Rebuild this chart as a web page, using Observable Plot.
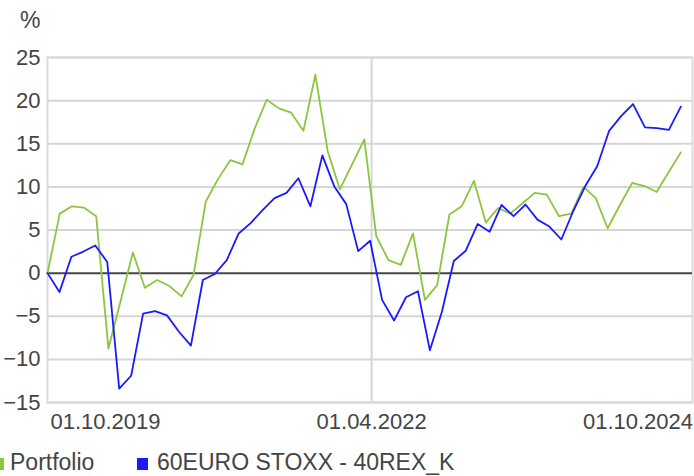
<!DOCTYPE html>
<html>
<head>
<meta charset="utf-8">
<script src="https://cdn.jsdelivr.net/npm/d3@7"></script>
<script src="https://cdn.jsdelivr.net/npm/@observablehq/plot@0.6"></script>
<style>
  html, body { margin: 0; padding: 0; background: #fff; }
  #wrap { position: relative; width: 694px; font-family: "Liberation Sans", Arial, sans-serif; color: #444; overflow: hidden; }
  #unit { position: absolute; left: 20px; top: 6px; font-size: 23px; line-height: 28px; }
  #legend { position: relative; width: 694px; height: 28px; font-size: 23px; line-height: 28px; }
  .sw { position: absolute; top: 10px; width: 11px; height: 12px; }
  .lt { position: absolute; top: 0; white-space: nowrap; }
</style>
</head>
<body>
<div id="wrap">
  <div id="chart"></div>
  <div id="unit">%</div>
  <div id="legend"></div>
</div>
<script>
// Series names and colours
const seriesNames = ["Portfolio", "60EURO STOXX - 40REX_K"];
const seriesColors = ["#8cc63f", "#1a1aff"];

// Portfolio (green) observation dates and values (%)
const portfolioDates = [
  "2019-03-16","2019-04-27","2019-06-08","2019-07-19","2019-08-30","2019-10-11","2019-11-22",
  "2020-01-03","2020-02-13","2020-03-26","2020-05-07","2020-06-18","2020-07-29","2020-09-09",
  "2020-10-21","2020-12-02","2021-01-13","2021-02-23","2021-04-06","2021-05-18","2021-06-29",
  "2021-08-10","2021-09-20","2021-11-01","2021-12-13","2022-01-24","2022-03-07","2022-04-17",
  "2022-05-29","2022-07-10","2022-08-21","2022-10-01","2022-11-12","2022-12-24","2023-02-04",
  "2023-03-18","2023-04-28","2023-06-09","2023-07-21","2023-09-01","2023-10-13","2023-11-23",
  "2024-01-04","2024-02-15","2024-03-28","2024-05-09","2024-06-19","2024-07-31","2024-09-11",
  "2024-10-23","2024-12-04","2025-01-14","2025-02-25"
];
const portfolioValues = [
  0, 6.9, 7.75, 7.6, 6.6, -8.75, -3.2,
  2.4, -1.7, -0.8, -1.5, -2.7, -0.2, 8.3,
  10.9, 13.1, 12.6, 16.7, 20.1, 19.1, 18.6,
  16.5, 23.0, 14.2, 9.7, 12.6, 15.5, 4.3,
  1.5, 0.95, 4.6, -3.1, -1.4, 6.8, 7.75,
  10.7, 5.85, 7.55, 6.9, 8.1, 9.3, 9.1,
  6.6, 6.9, 10.0, 8.7, 5.2, 7.9, 10.45,
  10.1, 9.4, 11.7, 14.0
];

// Benchmark (blue) observation dates and values (%)
const benchmarkDates = [
  "2019-03-16","2019-04-26","2019-06-06","2019-07-17","2019-08-27","2019-10-07","2019-11-17",
  "2019-12-28","2020-02-07","2020-03-19","2020-04-29","2020-06-09","2020-07-20","2020-08-30",
  "2020-10-10","2020-11-20","2020-12-31","2021-02-10","2021-03-23","2021-05-03","2021-06-13",
  "2021-07-24","2021-09-03","2021-10-14","2021-11-24","2022-01-04","2022-02-14","2022-03-27",
  "2022-05-07","2022-06-17","2022-07-28","2022-09-07","2022-10-18","2022-11-28","2023-01-08",
  "2023-02-18","2023-03-31","2023-05-11","2023-06-21","2023-08-01","2023-09-11","2023-10-22",
  "2023-12-02","2024-01-12","2024-02-22","2024-04-03","2024-05-14","2024-06-24","2024-08-04",
  "2024-09-14","2024-10-25","2024-12-05","2025-01-15","2025-02-25"
];
const benchmarkValues = [
  0, -2.2, 1.9, 2.5, 3.2, 1.3, -13.4,
  -11.9, -4.7, -4.4, -4.9, -6.8, -8.4, -0.8,
  -0.1, 1.5, 4.6, 5.8, 7.3, 8.7, 9.3,
  11.0, 7.75, 13.65, 10.05, 8.0, 2.55, 3.75,
  -3.1, -5.5, -2.8, -2.1, -8.95, -4.5, 1.4,
  2.6, 5.7, 4.8, 7.9, 6.6, 7.95, 6.2,
  5.4, 3.9, 7.2, 10.1, 12.4, 16.5, 18.2,
  19.6, 16.9, 16.8, 16.6, 19.3
];

// Axis ticks
const xTickDates = ["2019-10-01", "2022-04-01", "2024-10-01"];
const xGridDates = ["2022-04-01"];
const yTicks = [-15, -10, -5, 0, 5, 10, 15, 20, 25];
const xDomain = ["2019-03-16", "2025-04-06"];
const yDomain = [-15, 25];

const parse = (s) => new Date(s + "T00:00:00Z");
const portfolio = portfolioDates.map((d, i) => ({date: parse(d), value: portfolioValues[i]}));
const benchmark = benchmarkDates.map((d, i) => ({date: parse(d), value: benchmarkValues[i]}));

const chart = Plot.plot({
  width: 694,
  height: 448,
  marginLeft: 47,
  marginRight: 2,
  marginTop: 57,
  marginBottom: 46,
  style: {
    fontFamily: "'Liberation Sans', Arial, sans-serif",
    fontSize: "22px",
    color: "#444",
    background: "#fff",
    overflow: "visible"
  },
  x: {
    type: "utc",
    domain: xDomain.map(parse),
    ticks: xTickDates.map(parse),
    tickFormat: d3.utcFormat("%d.%m.%Y"),
    tickSize: 0,
    tickPadding: 11,
    label: null
  },
  y: {
    domain: yDomain,
    ticks: yTicks,
    tickSize: 0,
    tickPadding: 7,
    label: null
  },
  marks: [
    Plot.ruleY(yTicks.filter(d => d !== 0), {stroke: "#d6d6d6", strokeWidth: 2}),
    Plot.ruleX(xGridDates.map(parse), {stroke: "#d6d6d6", strokeWidth: 2}),
    Plot.frame({stroke: "#dadada", strokeWidth: 2}),
    Plot.ruleY([0], {stroke: "#454545", strokeWidth: 2}),
    Plot.line(portfolio, {x: "date", y: "value", stroke: seriesColors[0], strokeWidth: 1.8}),
    Plot.line(benchmark, {x: "date", y: "value", stroke: seriesColors[1], strokeWidth: 1.8})
  ]
});
document.getElementById("chart").appendChild(chart);

// Legend
const legend = document.getElementById("legend");
const swLeft = [-7, 137];
const txtLeft = [10, 157];
seriesNames.forEach((name, i) => {
  const sw = document.createElement("div");
  sw.className = "sw";
  sw.style.left = swLeft[i] + "px";
  sw.style.background = seriesColors[i];
  legend.appendChild(sw);
  const t = document.createElement("div");
  t.className = "lt";
  t.style.left = txtLeft[i] + "px";
  t.textContent = name;
  legend.appendChild(t);
});
</script>
</body>
</html>
